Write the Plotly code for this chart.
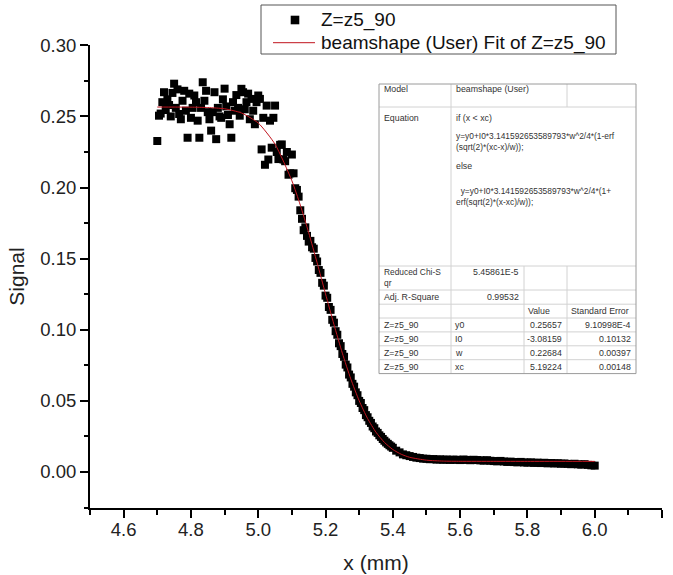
import plotly.graph_objects as go

# ---------------- data ----------------
x_data = [
    4.700, 4.705, 4.710, 4.715, 4.720, 4.725, 4.730, 4.735, 4.740, 4.745,
    4.750, 4.755, 4.760, 4.765, 4.770, 4.775, 4.780, 4.785, 4.790, 4.795,
    4.800, 4.805, 4.810, 4.815, 4.820, 4.825, 4.830, 4.835, 4.840, 4.845,
    4.850, 4.855, 4.860, 4.865, 4.870, 4.875, 4.880, 4.885, 4.890, 4.895,
    4.900, 4.905, 4.910, 4.915, 4.920, 4.925, 4.930, 4.935, 4.940, 4.945,
    4.950, 4.955, 4.960, 4.965, 4.970, 4.975, 4.980, 4.985, 4.990, 4.995,
    5.000, 5.005, 5.010, 5.015, 5.020, 5.025, 5.030, 5.035, 5.040, 5.045,
    5.050, 5.055, 5.060, 5.065, 5.070, 5.075, 5.080, 5.085, 5.090, 5.095,
    5.100, 5.105, 5.110, 5.115, 5.120, 5.125, 5.130, 5.135, 5.140, 5.145,
    5.150, 5.155, 5.160, 5.165, 5.170, 5.175, 5.180, 5.185, 5.190, 5.195,
    5.200, 5.205, 5.210, 5.215, 5.220, 5.225, 5.230, 5.235, 5.240, 5.245,
    5.250, 5.255, 5.260, 5.265, 5.270, 5.275, 5.280, 5.285, 5.290, 5.295,
    5.300, 5.305, 5.310, 5.315, 5.320, 5.325, 5.330, 5.335, 5.340, 5.345,
    5.350, 5.355, 5.360, 5.365, 5.370, 5.375, 5.380, 5.385, 5.390, 5.395,
    5.400,
    5.41, 5.42, 5.43, 5.44, 5.45, 5.46, 5.47, 5.48, 5.49, 5.50,
    5.51, 5.52, 5.53, 5.54, 5.55, 5.56, 5.57, 5.58, 5.59, 5.60,
    5.61, 5.62, 5.63, 5.64, 5.65, 5.66, 5.67, 5.68, 5.69, 5.70,
    5.71, 5.72, 5.73, 5.74, 5.75, 5.76, 5.77, 5.78, 5.79, 5.80,
    5.81, 5.82, 5.83, 5.84, 5.85, 5.86, 5.87, 5.88, 5.89, 5.90,
    5.91, 5.92, 5.93, 5.94, 5.95, 5.96, 5.97, 5.98, 5.99, 6.00,
]
y_data = [
    0.2327, 0.2505, 0.2520, 0.2600, 0.2670, 0.2545, 0.2620, 0.2580, 0.2500, 0.2665,
    0.2730, 0.2560, 0.2690, 0.2517, 0.2480, 0.2610, 0.2680, 0.2540, 0.2350, 0.2660,
    0.2490, 0.2560, 0.2647, 0.2600, 0.2470, 0.2350, 0.2560, 0.2740, 0.2610, 0.2680,
    0.2530, 0.2480, 0.2400, 0.2530, 0.2670, 0.2340, 0.2560, 0.2500, 0.2490, 0.2620,
    0.2695, 0.2570, 0.2510, 0.2445, 0.2350, 0.2600, 0.2540, 0.2650, 0.2560, 0.2505,
    0.2694, 0.2670, 0.2550, 0.2600, 0.2660, 0.2480, 0.2623, 0.2540, 0.2445, 0.2600,
    0.2647, 0.2623, 0.2268, 0.2490, 0.2160, 0.2576, 0.2197, 0.2470, 0.2280, 0.2490,
    0.2576, 0.2250, 0.2200, 0.2300, 0.2303, 0.2197, 0.2185, 0.2250, 0.2090, 0.2100,
    0.2232, 0.2100, 0.1995, 0.1983, 0.1936, 0.1840, 0.1780, 0.1700, 0.1720, 0.1660,
    0.1620, 0.1625, 0.1580, 0.1570, 0.1505, 0.1480, 0.1420, 0.1400, 0.1330, 0.1310,
    0.1240, 0.1225, 0.1160, 0.1140, 0.1070, 0.1050, 0.0990, 0.0965, 0.0905, 0.0885,
    0.0830, 0.0810, 0.0755, 0.0735, 0.0685, 0.0665, 0.0620, 0.0600, 0.0560, 0.0540,
    0.0500, 0.0485, 0.0450, 0.0435, 0.0400, 0.0385, 0.0360, 0.0345, 0.0320, 0.0308,
    0.0285, 0.0275, 0.0258, 0.0247, 0.0232, 0.0220, 0.0208, 0.0198, 0.0188, 0.0179,
    0.0170,
    0.0150, 0.0138, 0.0124, 0.0118, 0.0112, 0.0106, 0.0101, 0.0098, 0.0094, 0.0093,
    0.0090, 0.0091, 0.0087, 0.0089, 0.0086, 0.0088, 0.0085, 0.0087, 0.0086, 0.0084,
    0.0088, 0.0085, 0.0083, 0.0086, 0.0084, 0.0082, 0.0080, 0.0083, 0.0079, 0.0077,
    0.0075, 0.0078, 0.0074, 0.0071, 0.0073, 0.0070, 0.0068, 0.0071, 0.0067, 0.0066,
    0.0068, 0.0064, 0.0066, 0.0063, 0.0065, 0.0061, 0.0063, 0.0060, 0.0062, 0.0058,
    0.0060, 0.0057, 0.0055, 0.0058, 0.0054, 0.0052, 0.0055, 0.0050, 0.0047, 0.0045,
]

fit_x = [4.70, 4.75, 4.80, 4.85, 4.90, 4.95, 5.00, 5.05, 5.10, 5.125, 5.15, 5.175,
         5.20, 5.225, 5.25, 5.275, 5.30, 5.325, 5.35, 5.375, 5.40, 5.425, 5.45,
         5.50, 5.55, 5.60, 5.70, 5.80, 5.90, 6.00]
fit_y = [0.25657, 0.25656, 0.25650, 0.25624, 0.25536, 0.25242, 0.24535, 0.23045,
         0.20476, 0.18766, 0.16819, 0.14708, 0.12523, 0.10374, 0.08353, 0.06547,
         0.05010, 0.03760, 0.02795, 0.02083, 0.01583, 0.01249, 0.01036, 0.00832,
         0.00768, 0.00754, 0.00750, 0.00749, 0.00749, 0.00749]

data_name = "Z=z5_90"
fit_name = "beamshape (User) Fit of Z=z5_90"

x_ticks = [4.6, 4.8, 5.0, 5.2, 5.4, 5.6, 5.8, 6.0, 6.2]
y_ticks = [0.00, 0.05, 0.10, 0.15, 0.20, 0.25, 0.30]

model_name = "beamshape (User)"
eq_if = "if (x < xc)"
eq_branch1 = ["y=y0+I0*3.141592653589793*w^2/4*(1-erf", "(sqrt(2)*(xc-x)/w));"]
eq_else = "else"
eq_branch2 = ["y=y0+I0*3.141592653589793*w^2/4*(1+", "erf(sqrt(2)*(x-xc)/w));"]
red_chi = "5.45861E-5"
adj_r2 = "0.99532"
param_names = ["y0", "I0", "w", "xc"]
param_values = ["0.25657", "-3.08159", "0.22684", "5.19224"]
param_errors = ["9.10998E-4", "0.10132", "0.00397", "0.00148"]

# ---------------- layout geometry ----------------
W, H = 673, 575
L, R, T, B = 90, 11, 45, 67
PW, PH = W - L - R, H - T - B


def px(x):
    return (x - L) / PW


def py(y):
    return (H - B - y) / PH


FONT = "Liberation Sans, Arial, sans-serif"

fig = go.Figure()
fig.add_trace(go.Scatter(
    x=x_data, y=y_data, mode="markers", name=data_name,
    marker=dict(symbol="square", size=8, color="black", line=dict(width=0)),
))
fig.add_trace(go.Scatter(
    x=fit_x, y=fit_y, mode="lines", name=fit_name,
    line=dict(color="#c0141e", width=1, shape="spline", smoothing=0.6),
))

shapes = []
annos = []

# ---------------- legend box (drawn like the original) ----------------
shapes.append(dict(type="rect", xref="paper", yref="paper", x0=px(261), x1=px(616),
                   y0=py(54), y1=py(5), fillcolor="white",
                   line=dict(color="#555555", width=1)))
shapes.append(dict(type="rect", xref="paper", yref="paper", x0=px(290.7), x1=px(299.3),
                   y0=py(24.3), y1=py(15.7), fillcolor="black",
                   line=dict(color="black", width=0)))
shapes.append(dict(type="line", xref="paper", yref="paper", x0=px(273), x1=px(315),
                   y0=py(42.7), y1=py(42.7), line=dict(color="#c0141e", width=1)))
for name, yc in [(data_name, 20), (fit_name, 42.7)]:
    annos.append(dict(text=name, xref="paper", yref="paper", x=px(320), y=py(yc),
                      xanchor="left", yanchor="middle", showarrow=False, borderpad=0,
                      font=dict(family=FONT, size=19, color="#111111")))

# ---------------- fit-result table ----------------
tl, tr, tt, tb = 379, 636, 84, 373.6
c1, c2, c3 = 451, 524, 567
inner = "#d2d2d2"
outer = "#9a9a9a"


def hline(y, x0=tl, x1=tr, color=inner):
    shapes.append(dict(type="line", xref="paper", yref="paper", x0=px(x0), x1=px(x1),
                       y0=py(y), y1=py(y), line=dict(color=color, width=1)))


def vline(x, y0, y1, color=inner):
    shapes.append(dict(type="line", xref="paper", yref="paper", x0=px(x), x1=px(x),
                       y0=py(y0), y1=py(y1), line=dict(color=color, width=1)))


shapes.append(dict(type="rect", xref="paper", yref="paper", x0=px(tl), x1=px(tr),
                   y0=py(tb), y1=py(tt), fillcolor="white", line=dict(color="white", width=0),
                   layer="above"))
for yy in [107, 266, 290, 304.2, 318, 331.9, 345.8, 359.7]:
    hline(yy)
vline(c1, tt, tb)
vline(c3, tt, 107)
vline(c3, 266, tb)
vline(c2, 266, tb)
shapes.append(dict(type="rect", xref="paper", yref="paper", x0=px(tl), x1=px(tr),
                   y0=py(tb), y1=py(tt), line=dict(color=outer, width=1)))


def txt(s, x, y, anchor="left", size=8.8):
    annos.append(dict(text=s, xref="paper", yref="paper", x=px(x), y=py(y),
                      xanchor=anchor, yanchor="middle", showarrow=False, align=anchor,
                      font=dict(family=FONT, size=size, color="#333333"), borderpad=0))


txt("Model", 383, 89.5)
txt(model_name, 455, 89.5)
txt("Equation", 383, 118)
txt(eq_if, 455, 118)
txt("<br>".join(eq_branch1), 455, 141.5, size=8.4)
txt(eq_else, 455, 166)
txt("&nbsp;&nbsp;" + eq_branch2[0] + "<br>" + eq_branch2[1], 455, 196.5, size=8.4)
txt("Reduced Chi-S<br>qr", 383, 277.5, size=8.4)
txt(red_chi, 520, 272, "right")
txt("Adj. R-Square", 383, 297.1)
txt(adj_r2, 520, 297.1, "right")
txt("Value", 527, 311.1)
txt("Standard Error", 570, 311.1)
for i, (pn, pv, pe) in enumerate(zip(param_names, param_values, param_errors)):
    yc = 325.0 + i * 13.9
    txt(data_name, 383, yc)
    txt(pn, 454, yc)
    txt(pv, 563, yc, "right")
    txt(pe, 632, yc, "right")

axis_common = dict(
    showgrid=False, zeroline=False, showline=True, linecolor="black", linewidth=2,
    ticks="outside", ticklen=8, tickwidth=1.5, tickcolor="black",
    tickfont=dict(family=FONT, size=18.5, color="#222222"),
    mirror=False,
)

fig.update_layout(
    width=W, height=H, autosize=False,
    margin=dict(l=L, r=R, t=T, b=B, pad=0, autoexpand=False),
    paper_bgcolor="white", plot_bgcolor="white",
    font=dict(family=FONT, color="#222222"),
    xaxis=dict(
        range=[4.5, 6.2], tickvals=x_ticks, ticktext=[f"{v:.1f}" for v in x_ticks],
        title=dict(text="x (mm)", font=dict(family=FONT, size=21, color="#222222"), standoff=16),
        minor=dict(ticks="outside", ticklen=4.5, tickwidth=1.5, tickcolor="black",
                   dtick=0.1, tick0=4.5, showgrid=False),
        ticklabelstandoff=-4,
        **axis_common,
    ),
    yaxis=dict(
        range=[-0.0253, 0.3002], tickvals=y_ticks, ticktext=[f"{v:.2f}" for v in y_ticks],
        title=dict(text="Signal", font=dict(family=FONT, size=21, color="#222222"), standoff=10),
        minor=dict(ticks="outside", ticklen=4.5, tickwidth=1.5, tickcolor="black",
                   dtick=0.025, tick0=0, showgrid=False),
        **axis_common,
    ),
    showlegend=False,
    shapes=shapes,
    annotations=annos,
)

fig.write_html("out.html", config={"displayModeBar": False},
               post_script="document.body.style.margin='0px';")
